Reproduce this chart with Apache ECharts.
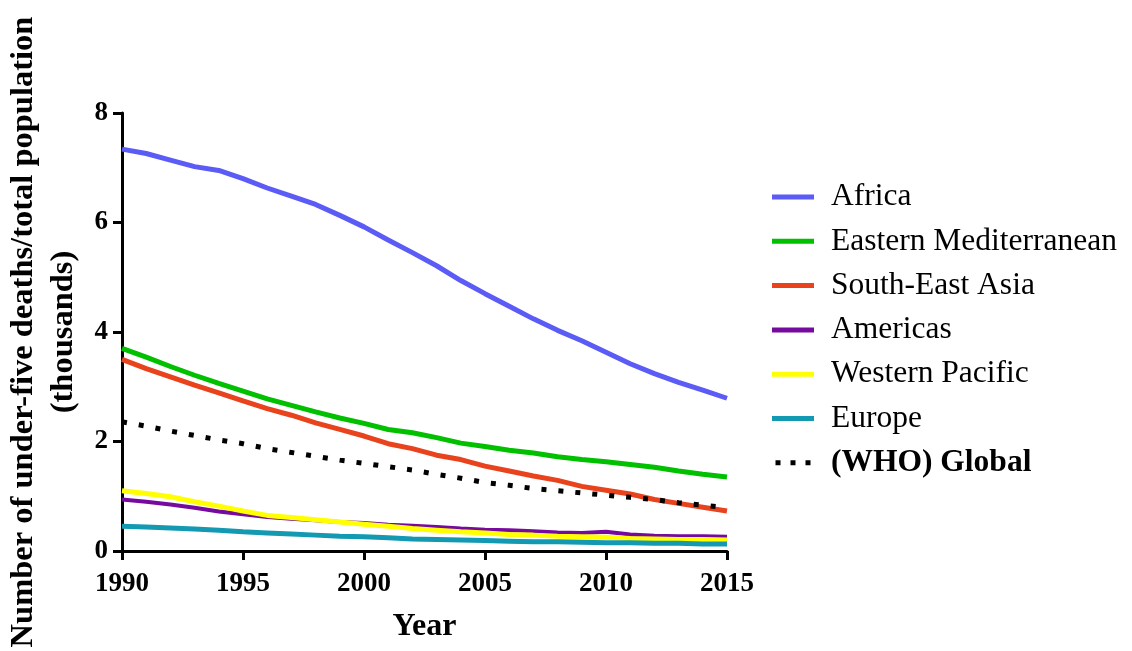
<!DOCTYPE html>
<html><head><meta charset="utf-8">
<script src="https://cdn.jsdelivr.net/npm/echarts@6/dist/echarts.min.js"></script>
<style>html,body{margin:0;padding:0;background:#fff}#c{width:1132px;height:651px}</style>
</head><body><div id="c"></div>
<script>
const years = [1990,1991,1992,1993,1994,1995,1996,1997,1998,1999,2000,2001,2002,2003,2004,2005,2006,2007,2008,2009,2010,2011,2012,2013,2014,2015];
const africa = [7.34,7.26,7.14,7.02,6.95,6.80,6.63,6.48,6.33,6.13,5.92,5.68,5.45,5.21,4.94,4.70,4.47,4.24,4.03,3.84,3.63,3.42,3.24,3.08,2.94,2.79];
const easternMed = [3.70,3.54,3.37,3.21,3.06,2.92,2.78,2.66,2.54,2.43,2.33,2.22,2.16,2.07,1.97,1.91,1.84,1.79,1.72,1.67,1.63,1.58,1.53,1.46,1.40,1.35];
const seAsia = [3.50,3.33,3.18,3.03,2.89,2.74,2.60,2.48,2.34,2.22,2.10,1.96,1.87,1.75,1.67,1.55,1.46,1.37,1.29,1.18,1.11,1.04,0.94,0.87,0.80,0.73];
const americas = [0.94,0.90,0.85,0.79,0.72,0.67,0.62,0.59,0.56,0.53,0.51,0.48,0.46,0.44,0.41,0.39,0.38,0.36,0.34,0.33,0.35,0.30,0.28,0.27,0.27,0.26];
const westernPacific = [1.10,1.05,0.99,0.90,0.82,0.73,0.65,0.61,0.57,0.53,0.49,0.45,0.41,0.38,0.35,0.33,0.30,0.29,0.27,0.26,0.25,0.23,0.22,0.21,0.21,0.20];
const europe = [0.45,0.44,0.42,0.40,0.38,0.35,0.33,0.31,0.29,0.27,0.26,0.24,0.22,0.21,0.20,0.19,0.18,0.17,0.17,0.16,0.15,0.15,0.14,0.14,0.13,0.13];
const globalWHO = [2.36,2.28,2.19,2.11,2.03,1.96,1.87,1.80,1.73,1.66,1.60,1.54,1.48,1.40,1.33,1.25,1.20,1.14,1.10,1.06,1.02,0.98,0.94,0.88,0.84,0.79];

const seriesNames = ['Africa','Eastern Mediterranean','South-East Asia','Americas','Western Pacific','Europe','(WHO) Global'];
const seriesData = [africa, easternMed, seAsia, americas, westernPacific, europe, globalWHO];
const colors = ['#5b5bf6','#00c000','#e8431c','#760a9e','#ffff00','#1399b2','#000000'];

const font = '"Liberation Serif", "Times New Roman", serif';
const chart = echarts.init(document.getElementById('c'));
chart.setOption({
  animation: false,
  textStyle: {fontFamily: font},
  grid: {left: 122, right: 405, top: 113, bottom: 100, containLabel: false, outerBoundsMode: 'none'},
  legend: {
    orient: 'vertical', left: 767, top: 176,
    itemWidth: 42, itemHeight: 5, itemGap: 12.3,
    textStyle: {fontFamily: font, fontSize: 31.5, lineHeight: 30, color: '#000', padding: [0,0,0,12],
      rich: {b: {fontFamily: font, fontSize: 31.5, lineHeight: 30, fontWeight: 'bold', color: '#000'}}},
    formatter: n => n === '(WHO) Global' ? '{b|' + n + '}' : n,
    data: seriesNames.map(n => n === '(WHO) Global'
      ? {name: n, icon: 'path://M0,0h6v6h-6z M18,0h6v6h-6z M36,0h6v6h-6z', itemStyle: {color: '#000'}}
      : {name: n, icon: 'rect'})
  },
  xAxis: {
    type: 'value', min: 1990, max: 2015, interval: 5,
    name: 'Year', nameLocation: 'middle', nameGap: 60,
    nameTextStyle: {fontFamily: font, fontSize: 32, fontWeight: 'bold', color: '#000'},
    axisLine: {lineStyle: {color: '#000', width: 3}},
    axisTick: {show: true, length: 9, lineStyle: {color: '#000', width: 3}},
    axisLabel: {fontFamily: font, fontSize: 27, fontWeight: 'bold', color: '#000', margin: 20, formatter: v => String(v)},
    splitLine: {show: false}
  },
  yAxis: {
    type: 'value', min: 0, max: 8, interval: 2,
    name: 'Number of under-five deaths/total population\n(thousands)',
    nameLocation: 'middle', nameGap: 34, nameRotate: 90,
    nameTextStyle: {fontFamily: font, fontSize: 32.5, fontWeight: 'bold', color: '#000', lineHeight: 40},
    axisLine: {show: true, lineStyle: {color: '#000', width: 3}},
    axisTick: {show: true, length: 9, lineStyle: {color: '#000', width: 3}},
    axisLabel: {fontFamily: font, fontSize: 27, fontWeight: 'bold', color: '#000', margin: 14, padding: [4,0,0,0]},
    splitLine: {show: false}
  },
  series: seriesNames.map((n, i) => ({
    name: n, type: 'line', symbol: 'none', smooth: false,
    data: years.map((y, j) => [y, seriesData[i][j]]),
    color: colors[i],
    itemStyle: {color: colors[i]},
    lineStyle: i === 6
      ? {color: '#000', width: 5, type: [5, 12], cap: 'butt'}
      : {color: colors[i], width: i === 3 ? 4 : 5},
    z: 2 + i
  }))
});
</script></body></html>
